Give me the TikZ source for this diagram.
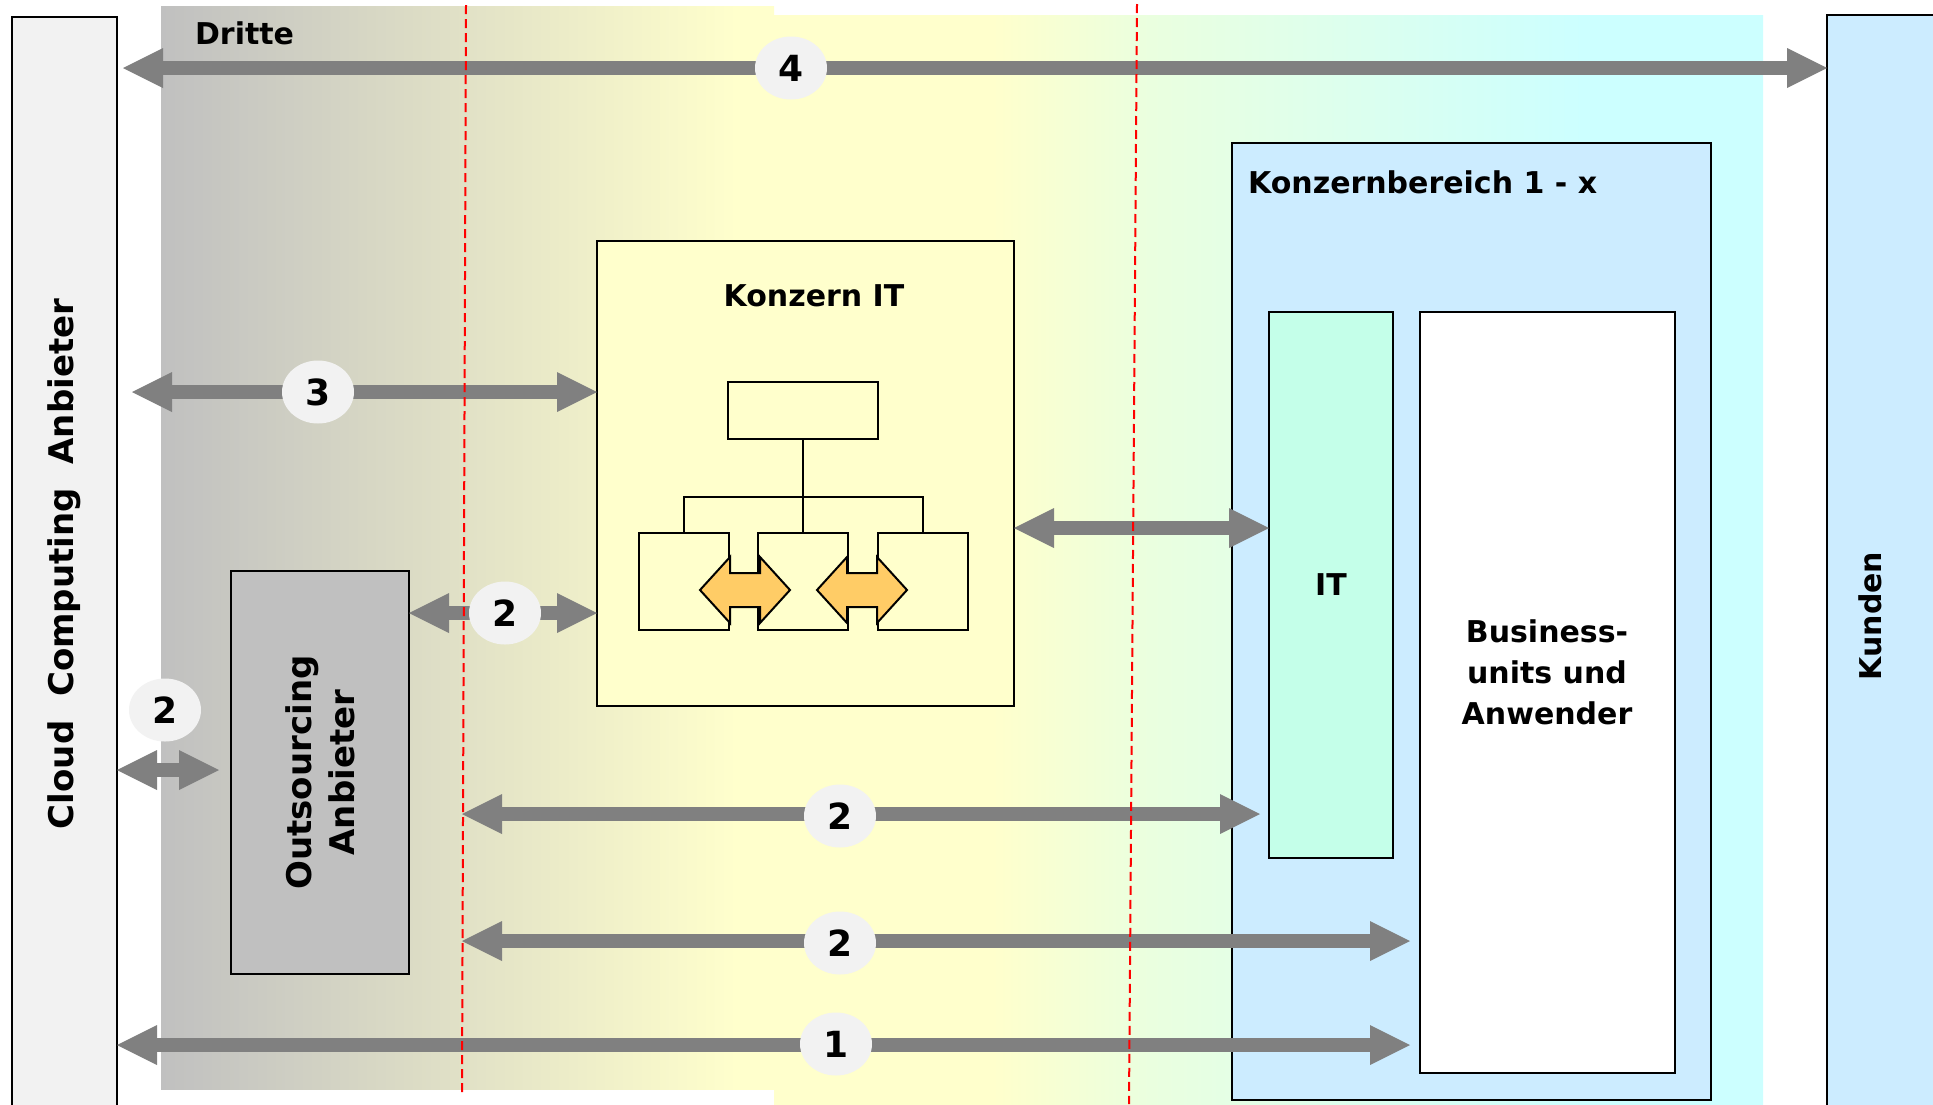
\documentclass[tikz,border=0pt]{standalone}
\usepackage{fontspec}
\setmainfont{DejaVu Sans}
\usetikzlibrary{arrows.meta,shapes.geometric,positioning}

\definecolor{cloudgray}{HTML}{F2F2F2}
\definecolor{outgray}{HTML}{C0C0C0}
\definecolor{kyellow}{HTML}{FFFFCC}
\definecolor{kgreen}{HTML}{EAFFDF}
\definecolor{kcyan}{HTML}{CCFFFF}
\definecolor{kblue}{HTML}{CCECFF}
\definecolor{kmint}{HTML}{C4FFE9}
\definecolor{korange}{HTML}{FFCC66}
\definecolor{arrowgray}{HTML}{808080}

\pgfdeclarehorizontalshading{grayyellow}{100bp}{color(0bp)=(outgray); color(25bp)=(outgray); color(72bp)=(kyellow); color(100bp)=(kyellow)}
\pgfdeclarehorizontalshading{yellowcyan}{100bp}{color(0bp)=(kyellow); color(36bp)=(kyellow); color(44bp)=(kgreen); color(66bp)=(kcyan); color(100bp)=(kcyan)}

\newcommand{\boxfont}{\fontsize{15}{20.5}\selectfont\bfseries}
\newcommand{\bigfont}{\fontsize{17}{21.5}\selectfont\bfseries}
\newcommand{\numfont}{\fontsize{18}{20}\selectfont\bfseries}

\tikzset{
  box/.style={draw=black, line width=1pt, inner sep=0pt, outer sep=0pt, anchor=north west},
  orgbox/.style={box, fill=kyellow},
  orgline/.style={draw=black, line width=1pt},
  bigarrow/.style={draw=arrowgray, line width=7pt,
    {Triangle[width=20pt,length=20pt,line width=0pt]}-{Triangle[width=20pt,length=20pt,line width=0pt]}},
  orangearrow/.style={draw=black, line width=1pt, fill=korange, line join=miter},
  numlbl/.style={ellipse, fill=cloudgray, minimum width=36pt, minimum height=31.5pt, inner sep=0pt, font=\numfont},
  reddash/.style={draw=red, line width=1pt, dash pattern=on 4.5pt off 2.5pt}
}

\begin{document}
\begin{tikzpicture}[x=0.5pt,y=-0.5pt]
  \useasboundingbox (0,0) rectangle (1933,1104);
  \fill[white] (0,0) rectangle (1933,1104);

  % background bands
  \shade[shading=grayyellow] (161,6) rectangle (774,1089);
  \shade[shading=yellowcyan] (774,15) rectangle (1763,1104);
  \node[anchor=west, font=\boxfont] (dritte) at (188,33) {Dritte};

  % outer parties
  \node[box, fill=cloudgray, minimum width=52.5pt, minimum height=547pt] (cloud) at (12,17) {};
  \node[rotate=90, font=\bigfont] (cloudtxt) at (cloud.center) {Cloud\ \ Computing\ \ Anbieter};
  \node[box, fill=kblue, minimum width=56.5pt, minimum height=548pt] (kunden) at (1827,15) {};
  \node[rotate=90, font=\boxfont] (kundentxt) at (1870,616) {Kunden};

  \node[box, fill=outgray, minimum width=89pt, minimum height=201.5pt] (outs) at (231,571) {};
  \node[rotate=90, font=\bigfont, align=center] (outstxt) at (outs.center) {Outsourcing\\Anbieter};

  % Konzern IT
  \node[box, fill=kyellow, minimum width=208.5pt, minimum height=232.5pt] (kit) at (597,241) {};
  \node[font=\boxfont] (kittxt) at (814,296) {Konzern IT};
  \node[orgbox, minimum width=75pt, minimum height=28.5pt] (orgtop) at (728,382) {};
  \node[orgbox, minimum width=45pt, minimum height=48.5pt] (orgleft) at (639,533) {};
  \node[orgbox, minimum width=45pt, minimum height=48.5pt] (orgmid) at (758,533) {};
  \node[orgbox, minimum width=45pt, minimum height=48.5pt] (orgright) at (878,533) {};
  \coordinate (orgbar) at (0,497);
  \draw[orgline] (orgtop.south) -- (orgmid.north);
  \draw[orgline] (orgleft.north) -- (orgleft.north |- orgbar) -- (orgright.north |- orgbar) -- (orgright.north);
  \foreach \cx in {745,862} {
    \draw[orangearrow] (\cx-45,590) -- ++(30,-33) -- ++(0,16) -- ++(30,0) -- ++(0,-16) -- ++(30,33)
      -- ++(-30,33) -- ++(0,-16) -- ++(-30,0) -- ++(0,16) -- cycle;
  }

  % Konzernbereich
  \node[box, fill=kblue, minimum width=239.5pt, minimum height=478.5pt] (kber) at (1232,143) {};
  \node[anchor=west, font=\boxfont] (kbertxt) at (1241,182) {Konzernbereich 1 - x};
  \node[box, fill=kmint, minimum width=62pt, minimum height=273pt] (itbox) at (1269,312) {};
  \node[font=\boxfont] (ittxt) at (itbox.center) {IT};
  \node[box, fill=white, minimum width=127.5pt, minimum height=380.5pt] (biz) at (1420,312) {};
  \node[font=\boxfont, align=center] (biztxt) at (1547,672) {Business-\\units und\\Anwender};

  % connectors
  \coordinate (r4) at (0,68);
  \coordinate (r3) at (0,392);
  \coordinate (r5) at (0,528);
  \coordinate (r6) at (0,613);
  \coordinate (r7) at (0,770);
  \coordinate (r8) at (0,814);
  \coordinate (r9) at (0,941);
  \coordinate (r1) at (0,1045);
  \coordinate (d1top) at (466,5);
  \coordinate (d1bot) at (462,1092);
  \coordinate (d2top) at (1137,4);
  \coordinate (d2bot) at (1129,1104);

  \draw[bigarrow, shorten <=3pt] (cloud.east |- r4) -- (kunden.west |- r4);
  \draw[bigarrow, shorten <=7.5pt] (cloud.east |- r3) -- (kit.west |- r3);
  \draw[bigarrow] (kit.east |- r5) -- (itbox.west |- r5);
  \draw[bigarrow] (outs.east |- r6) -- (kit.west |- r6);
  \draw[bigarrow, shorten >=6pt] (cloud.east |- r7) -- (outs.west |- r7);
  \draw[bigarrow, shorten >=4.5pt] (d1bot |- r8) -- (itbox.west |- r8);
  \draw[bigarrow, shorten >=5pt] (d1bot |- r9) -- (biz.west |- r9);
  \draw[bigarrow, shorten >=5pt] (cloud.east |- r1) -- (biz.west |- r1);

  \draw[reddash] (d1top) -- (d1bot);
  \draw[reddash] (d2top) -- (d2bot);

  % numbers
  \node[numlbl] (n4) at (791,68) {4};
  \node[numlbl] (n3) at (318,392) {3};
  \node[numlbl] (n2a) at (505,613) {2};
  \node[numlbl] (n2b) at (165,710) {2};
  \node[numlbl] (n2c) at (840,816) {2};
  \node[numlbl] (n2d) at (840,943) {2};
  \node[numlbl] (n1) at (836,1044) {1};
\end{tikzpicture}
\end{document}
